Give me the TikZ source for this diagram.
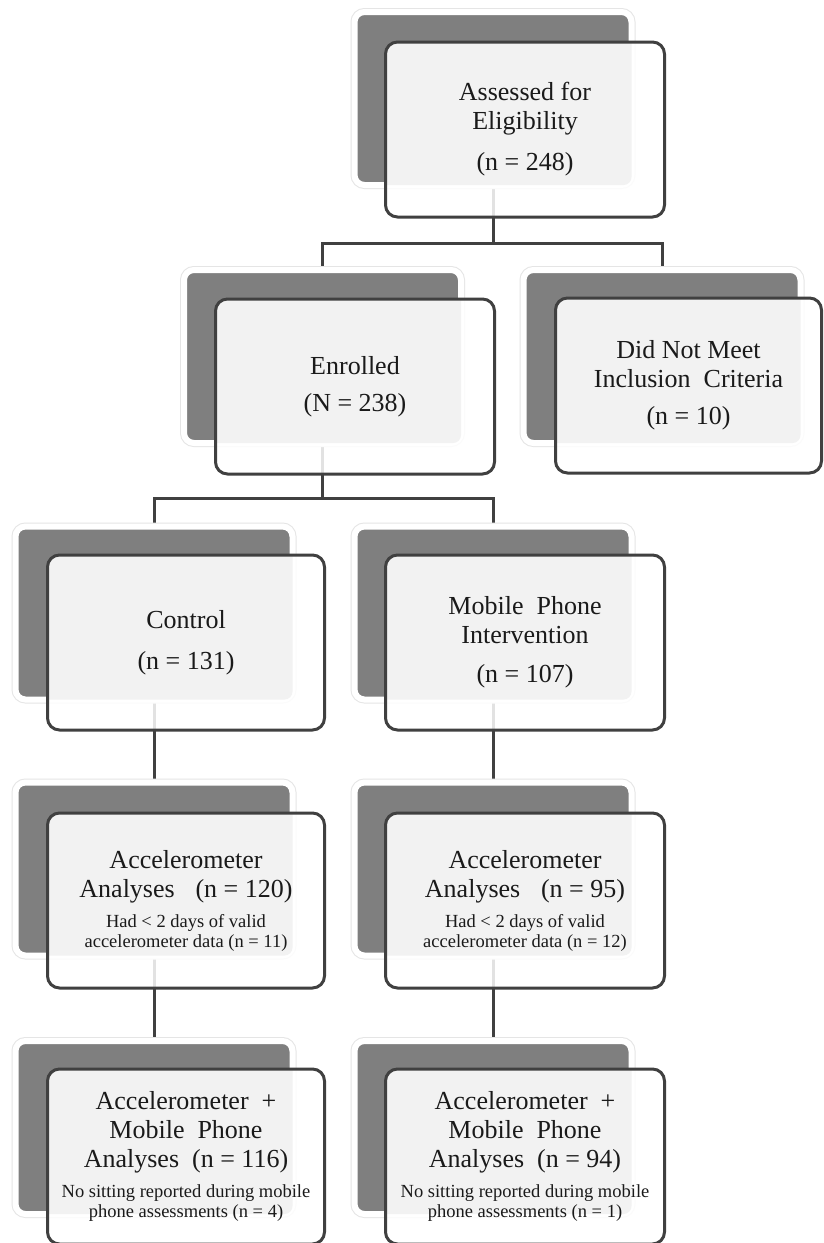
\documentclass[tikz,border=0pt]{standalone}
\usepackage{fontspec}
\setmainfont{Liberation Serif}
\usetikzlibrary{calc}
\pgfdeclarelayer{paper}
\pgfdeclarelayer{bg}
\pgfsetlayers{paper,bg,main}
\definecolor{backgray}{RGB}{127,127,127}
\definecolor{ovlgray}{RGB}{242,242,242}
\definecolor{linegray}{RGB}{64,64,64}
\definecolor{txtgray}{RGB}{26,26,26}
\newcommand\bigf{\fontsize{26}{28.5}\selectfont}
\newcommand\smallf{\fontsize{18.5}{20}\selectfont}
\tikzset{
  backbox/.style={rounded corners=10pt, fill=backgray, draw=white, line width=6pt,
    minimum width=277pt, minimum height=173pt, inner sep=0pt,
    preaction={draw=black!10, line width=8pt}},
  frontfill/.style={rounded corners=12pt, fill=white, fill opacity=0.85, draw=none,
    minimum height=175pt, inner sep=0pt, outer sep=0pt},
  frontline/.style={rounded corners=12pt, draw=linegray, line width=3pt,
    minimum height=175pt, inner sep=0pt, outer sep=0pt, align=center,
    text=txtgray, font=\bigf},
  ovl/.style={fill=ovlgray},
  conn/.style={draw=linegray, line width=3pt}
}
\newcommand\flowbox[5]{%
  \node[backbox] (b#1) at #2 {};
  \node[frontfill, minimum width=#4] (f#1) at #3 {};
  \begin{scope}
    \clip[rounded corners=12pt] (f#1.south west) rectangle (f#1.north east);
    \fill[ovl, rounded corners=8pt] ($(b#1.south west)+(3pt,3pt)$) rectangle ($(b#1.north east)+(-3pt,-3pt)$);
  \end{scope}
  \node[frontline, minimum width=#4] (t#1) at (f#1) {#5};
}
\begin{document}
\begin{tikzpicture}[x=1pt,y=-1pt]
\begin{pgfonlayer}{paper}
\fill[white] (0,0) rectangle (823,1243);
\end{pgfonlayer}
\useasboundingbox (0,0) rectangle (823,1243);

\flowbox{A}{(493,98.5)}{(525,129.5)}{279pt}{Assessed for\\Eligibility\\[13pt](n = 248)}
\flowbox{B}{(322.5,356.5)}{(355,386.5)}{279pt}{Enrolled\\[8pt](N = 238)}
\flowbox{C}{(662,356.5)}{(688.5,385.5)}{266pt}{Did Not Meet\\Inclusion~~Criteria\\[9pt](n = 10)}
\flowbox{D}{(154,613)}{(186,642.5)}{277pt}{Control\\[13pt](n = 131)}
\flowbox{E}{(493,613)}{(525,642.5)}{279pt}{Mobile~~Phone\\Intervention\\[11pt](n = 107)}
\flowbox{F}{(154,869)}{(186,900.5)}{277pt}{Accelerometer\\[1pt]Analyses\hspace{0.8em}(n = 120)\\[1pt]\smallf Had {\textless} 2 days of valid\\[-8.5pt]\smallf accelerometer data (n = 11)}
\flowbox{G}{(493,869)}{(525,900.5)}{279pt}{Accelerometer\\[1pt]Analyses\hspace{0.8em}(n = 95)\\[1pt]\smallf Had {\textless} 2 days of valid\\[-8.5pt]\smallf accelerometer data (n = 12)}
\flowbox{H}{(154,1127.5)}{(186,1156.5)}{277pt}{Accelerometer~~+\\Mobile~~Phone\\[1pt]Analyses~~(n = 116)\\[1pt]\smallf No sitting reported during mobile\\[-8.5pt]\smallf phone assessments (n = 4)}
\flowbox{I}{(493,1127.5)}{(525,1156.5)}{279pt}{Accelerometer~~+\\Mobile~~Phone\\[1pt]Analyses~~(n = 94)\\[1pt]\smallf No sitting reported during mobile\\[-8.5pt]\smallf phone assessments (n = 1)}

\coordinate (jA) at (493,243);
\coordinate (jB) at (322.5,498);
\begin{pgfonlayer}{bg}
  \draw[conn] (bA.south) -- (jA);
  \draw[conn] (bB.north) |- (jA) -| (bC.north);
  \draw[conn] (bB.south) -- (jB);
  \draw[conn] (bD.north) |- (jB) -| (bE.north);
  \draw[conn] (bD.south) -- (bF.north);
  \draw[conn] (bE.south) -- (bG.north);
  \draw[conn] (bF.south) -- (bH.north);
  \draw[conn] (bG.south) -- (bI.north);
\end{pgfonlayer}
\end{tikzpicture}
\end{document}
